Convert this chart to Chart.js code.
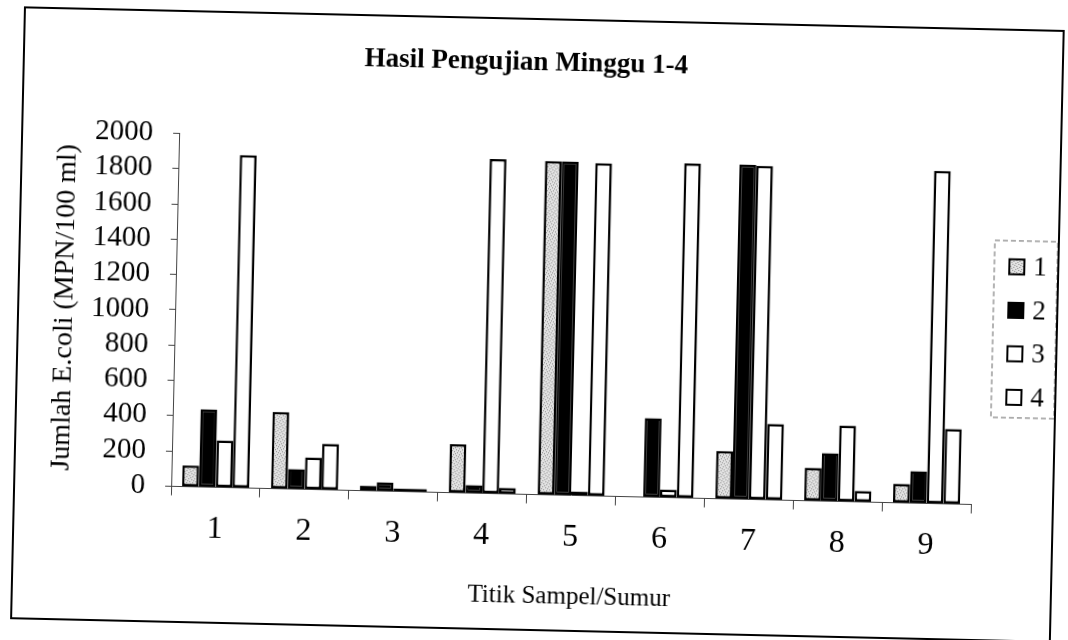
<!DOCTYPE html>
<html>
<head>
<meta charset="utf-8">
<script src="https://cdn.jsdelivr.net/npm/chart.js@4"></script>
<style>
  html, body { margin: 0; padding: 0; background: #fff; overflow: hidden; }
  /* scan is tilted a little clockwise */
  #wrap { width: 1068px; height: 640px; transform: rotate(1.3deg); transform-origin: 534px 320px; }
</style>
</head>
<body>
<div id="wrap"><canvas id="hasil" width="1068" height="640"></canvas></div>
<script>
const titikSampel = ['1', '2', '3', '4', '5', '6', '7', '8', '9'];
const minggu = ['1', '2', '3', '4'];
const minggu1 = [120, 435, 28, 275, 1890, 0, 270, 187, 107];
const minggu2 = [440, 113, 50, 45, 1890, 447, 1895, 272, 181];
const minggu3 = [266, 181, 17, 1895, 23, 45, 1890, 430, 1885];
const minggu4 = [1885, 260, 17, 34, 1885, 1895, 430, 62, 425];
const yTicks = [0, 200, 400, 600, 800, 1000, 1200, 1400, 1600, 1800, 2000];

const serif = "'Liberation Serif', serif";

const makeStipple = () => {
    const c = document.createElement('canvas');
    c.width = 6;
    c.height = 6;
    const g = c.getContext('2d');
    g.fillStyle = '#e2e2e2';
    g.fillRect(0, 0, 6, 6);
    g.fillStyle = '#8c8c8c';
    [[0, 0], [3, 1], [1, 3], [4, 4], [5, 2], [2, 5]].forEach(([x, y]) => g.fillRect(x, y, 1, 1));
    return g.createPattern(c, 'repeat');
};
const stipple = makeStipple();

// white page + outer frame
const bingkai = {
    id: 'bingkai',
    beforeDraw(chart) {
        const {ctx} = chart;
        ctx.save();
        ctx.fillStyle = '#fff';
        ctx.fillRect(0, 0, chart.width, chart.height);
        ctx.restore();
    },
    afterDraw(chart) {
        const {ctx} = chart;
        ctx.save();
        ctx.strokeStyle = '#000';
        ctx.lineWidth = 2;
        ctx.strokeRect(18, 19, 1039, 611);
        ctx.restore();
    }
};

// legend as its own layout box on the right, with the dashed frame
const legenda = {
    id: 'legenda',
    beforeInit(chart) {
        const box = {
            position: 'right',
            weight: 100,
            fullSize: false,
            options: {},
            isHorizontal() { return false; },
            update(maxWidth, maxHeight) {
                this.width = 66;
                this.height = maxHeight;
            },
            draw() {
                const {ctx, chartArea} = chart;
                const mid = (chartArea.top + chartArea.bottom) / 2;
                ctx.save();
                ctx.strokeStyle = '#666';
                ctx.lineWidth = 1;
                ctx.setLineDash([5, 3]);
                ctx.strokeRect(this.left + 18, mid - 88, 63, 177);
                ctx.setLineDash([]);
                ctx.font = Chart.helpers.toFont({family: serif, size: 27}).string;
                ctx.textBaseline = 'middle';
                chart.data.datasets.forEach((ds, i) => {
                    const y = mid - 62 + i * 43.5;
                    ctx.fillStyle = ds.backgroundColor;
                    ctx.fillRect(this.left + 33, y - 7.5, 15, 15);
                    ctx.strokeStyle = '#000';
                    ctx.lineWidth = 2;
                    ctx.strokeRect(this.left + 33, y - 7.5, 15, 15);
                    ctx.fillStyle = '#000';
                    ctx.fillText(ds.label, this.left + 57, y + 1);
                });
                ctx.restore();
            }
        };
        Chart.layouts.addBox(chart, box);
    }
};

const barStyle = (label, data, fill) => ({
    label: label,
    data: data,
    backgroundColor: fill,
    borderColor: '#000',
    borderWidth: 2.5,
    borderSkipped: false,
    categoryPercentage: 0.755,
    barPercentage: 1.0
});

const ctx = document.getElementById('hasil').getContext('2d');
new Chart(ctx, {
    type: 'bar',
    data: {
        labels: titikSampel,
        datasets: [
            barStyle(minggu[0], minggu1, stipple),
            barStyle(minggu[1], minggu2, '#000'),
            barStyle(minggu[2], minggu3, '#fff'),
            barStyle(minggu[3], minggu4, '#fff')
        ]
    },
    options: {
        responsive: false,
        animation: false,
        layout: {padding: {left: 0, right: 27, top: 0, bottom: 0}},
        plugins: {
            legend: {display: false},
            tooltip: {enabled: false},
            title: {
                display: true,
                text: 'Hasil Pengujian Minggu 1-4',
                color: '#000',
                font: {family: serif, size: 27, weight: 'bold'},
                padding: {top: 47, bottom: 62}
            }
        },
        scales: {
            x: {
                grid: {offset: true, drawOnChartArea: false, drawTicks: true, tickLength: 9, color: '#444'},
                border: {color: '#444', width: 1},
                ticks: {color: '#000', font: {family: serif, size: 32}, padding: 14, maxRotation: 0},
                title: {
                    display: true,
                    text: 'Titik Sampel/Sumur',
                    color: '#000',
                    font: {family: serif, size: 25},
                    padding: {top: 0, bottom: 29}
                },
                afterFit: (scale) => { scale.height = 145.5; }
            },
            y: {
                min: 0,
                max: 2000,
                afterBuildTicks: (axis) => { axis.ticks = yTicks.map(v => ({value: v})); },
                grid: {drawOnChartArea: false, drawTicks: true, tickLength: 6, color: '#444'},
                border: {color: '#444', width: 1},
                ticks: {
                    color: '#000',
                    font: {family: serif, size: 29},
                    padding: 20,
                    autoSkip: false,
                    callback: (v) => String(v)
                },
                title: {
                    display: true,
                    text: 'Jumlah E.coli (MPN/100 ml)',
                    color: '#000',
                    font: {family: serif, size: 28},
                    padding: {top: 48, bottom: 0}
                },
                afterFit: (scale) => { scale.width = 175; }
            }
        }
    },
    plugins: [bingkai, legenda]
});
</script>
</body>
</html>
